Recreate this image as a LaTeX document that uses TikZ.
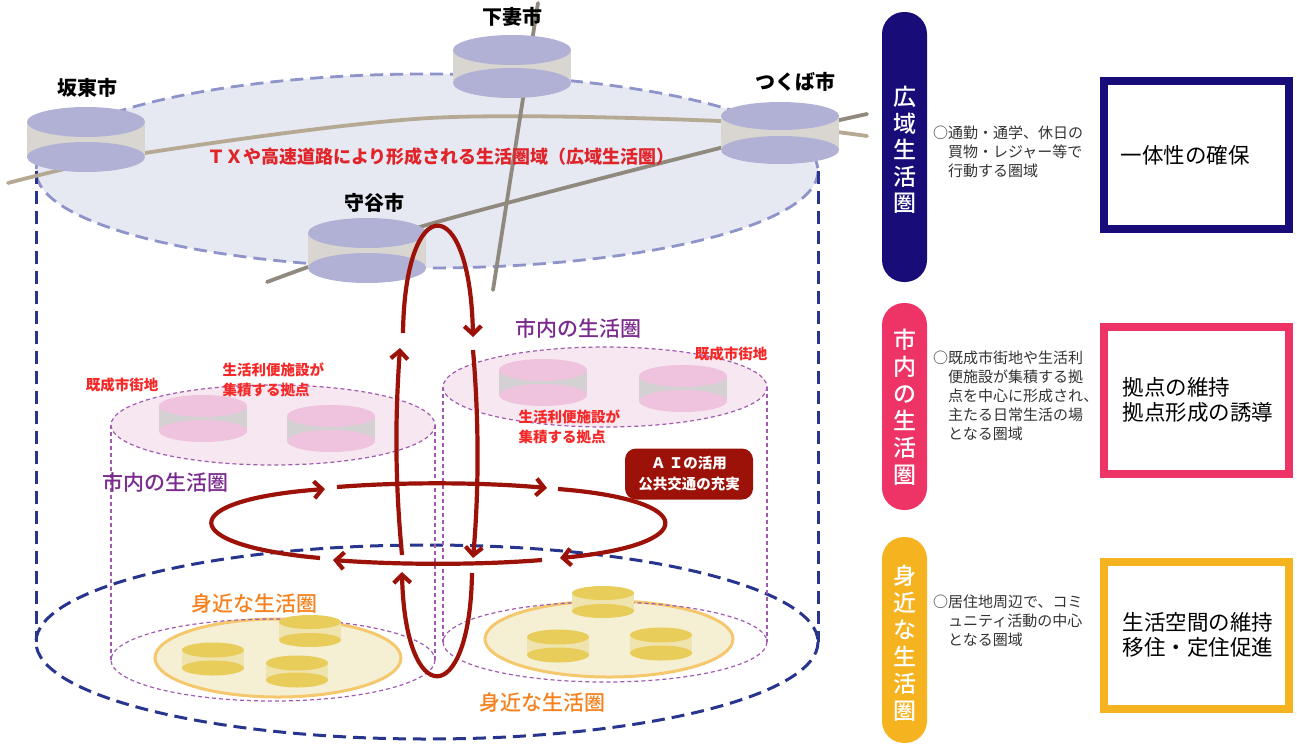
\documentclass[tikz,border=0pt]{standalone}
\usepackage{fontspec}
\setmainfont{Noto Sans CJK JP}
\newfontfamily\medfont{Noto Sans CJK JP Medium}
\usetikzlibrary{arrows.meta}
\definecolor{navy}{HTML}{28358F}
\definecolor{topdash}{HTML}{8E93C9}
\definecolor{topfill}{HTML}{E6E9F2}
\definecolor{cityface}{HTML}{B0B1D5}
\definecolor{cityside}{HTML}{D9D5D1}
\definecolor{roadtan}{HTML}{B5A993}
\definecolor{roadgray}{HTML}{8F897E}
\definecolor{pinkface}{HTML}{EFC2DE}
\definecolor{pinkside}{HTML}{D3D1D1}
\definecolor{pinkdisc}{HTML}{F6E7F0}
\definecolor{purpledash}{HTML}{A05AB0}
\definecolor{yellowface}{HTML}{E8CD5A}
\definecolor{yellowside}{HTML}{EFE4AE}
\definecolor{yellowdisc}{HTML}{F5F0D4}
\definecolor{yellowrim}{HTML}{F5C86E}
\definecolor{arrowred}{HTML}{9C1209}
\definecolor{labelred}{HTML}{F52828}
\definecolor{txred}{HTML}{E0242A}
\definecolor{purpletext}{HTML}{7B2B8E}
\definecolor{orangetext}{HTML}{F5821F}
\definecolor{pillA}{HTML}{180C78}
\definecolor{pillB}{HTML}{EE3366}
\definecolor{pillC}{HTML}{F5B320}
\definecolor{desctext}{HTML}{333333}
\newcommand{\mycyl}[7]{%
  \fill[#6] ({#1-#4},#2) rectangle ({#1+#4},#3);
  \fill[#7] (#1,#3) ellipse [x radius=#4, y radius=#5];
  \fill[#7] (#1,#2) ellipse [x radius=#4, y radius=#5];
}
\tikzset{
  navydash/.style={draw=navy, line width=3pt, dash pattern=on 13pt off 7pt},
  topdashed/.style={draw=topdash, line width=2.8pt, dash pattern=on 13pt off 7pt, fill=topfill},
  purpled/.style={draw=purpledash, line width=1.2pt, dash pattern=on 4pt off 3pt},
  roadA/.style={draw=roadtan, line width=3.8pt, line cap=round},
  roadB/.style={draw=roadgray, line width=3.8pt, line cap=round},
  citylabel/.style={font=\fontsize{20}{24}\selectfont\bfseries, text=black},
  redlabel/.style={font=\fontsize{14.5}{20}\selectfont\bfseries, text=labelred, align=left},
  purplelabel/.style={font=\fontsize{21}{24}\selectfont\medfont, text=purpletext},
  orangelabel/.style={font=\fontsize{21}{24}\selectfont\medfont, text=orangetext},
  arr/.style={draw=arrowred, line width=4.2pt, -{Straight Barb[length=8pt,width=17pt]}},
  desc/.style={font=\fontsize{15}{18.8}\selectfont, text=desctext, align=left, anchor=north west, inner sep=0pt},
  boxtext/.style={font=\fontsize{21.5}{25}\selectfont, text=black, align=left},
  pilltext/.style={font=\fontsize{23}{27}\selectfont\medfont, text=white, align=center},
}
\begin{document}
\begin{tikzpicture}[x=1pt,y=-1pt]
\useasboundingbox (0,0) rectangle (1297,744);

% ---- wide-area disc ----
\draw[topdashed] (427,171) ellipse [x radius=391, y radius=97];

% ---- outer navy cylinder ----
\draw[navydash] (36,171) -- (36,642);
\draw[navydash] (818,171) -- (818,642);
\draw[navydash] (427,642) ellipse [x radius=391, y radius=97];

% ---- roads ----
\draw[roadA] plot[smooth] coordinates {(8,183) (145,153) (430,118) (720,121) (867,136)};
\draw[roadB] plot[smooth] coordinates {(267,282) (308,267) (430,224) (720,148) (867,114)};
\draw[roadB] (538,3) -- (493,290);

% ---- city cylinders ----
\mycyl{86}{122}{157}{59}{15}{cityside}{cityface}
\mycyl{512}{50}{83}{59}{15}{cityside}{cityface}
\mycyl{780}{116}{150}{59}{14}{cityside}{cityface}
\mycyl{367}{233}{268}{59}{15}{cityside}{cityface}
\node[citylabel] (bando) at (87,88) {坂東市};
\node[citylabel] (shimotsuma) at (512,17) {下妻市};
\node[citylabel] (tsukuba) at (795,82) {つくば市};
\node[citylabel] (moriya) at (374,203) {守谷市};
\node[font=\fontsize{18}{22}\selectfont\bfseries, text=txred] (tx) at (441,157) {ＴＸや高速道路により形成される生活圏域（広域生活圏）};

% ---- neighbourhood discs (yellow) ----
\draw[draw=yellowrim, line width=3pt, fill=yellowdisc] (278,658) ellipse [x radius=123, y radius=39];
\draw[draw=yellowrim, line width=3pt, fill=yellowdisc] (609,639) ellipse [x radius=124, y radius=38];

% ---- city-internal cylinders (pink, dashed) ----
\draw[purpled] (111,425) -- (111,660);
\draw[purpled] (435,425) -- (435,660);
\draw[purpled] (273,660) ellipse [x radius=162, y radius=41];
\draw[purpled, fill=pinkdisc] (273,425) ellipse [x radius=162, y radius=40];
\draw[purpled] (443,387) -- (443,642);
\draw[purpled] (767,387) -- (767,642);
\draw[purpled] (605,642) ellipse [x radius=162, y radius=40];
\draw[purpled, fill=pinkdisc] (605,387) ellipse [x radius=162, y radius=40];

\mycyl{203}{406}{431}{44}{11}{pinkside}{pinkface}
\mycyl{331}{416}{441}{44}{11}{pinkside}{pinkface}
\mycyl{543}{370}{395}{44}{11}{pinkside}{pinkface}
\mycyl{683}{376}{401}{44}{11}{pinkside}{pinkface}

% ---- yellow cylinders ----
\mycyl{213}{650}{668}{31}{7.5}{yellowside}{yellowface}
\mycyl{310}{622}{640}{31}{7}{yellowside}{yellowface}
\mycyl{297}{663}{680}{31}{7.5}{yellowside}{yellowface}
\mycyl{603}{593}{611}{31}{7}{yellowside}{yellowface}
\mycyl{558}{637}{655}{31}{7.5}{yellowside}{yellowface}
\mycyl{661}{635}{653}{31}{7.5}{yellowside}{yellowface}

% ---- labels in the diagram ----
\node[redlabel] (kisei1) at (122,385) {既成市街地};
\node[redlabel, anchor=west] (benri1) at (219,380) {生活利便施設が\\集積する拠点};
\node[redlabel] (kisei2) at (731,354) {既成市街地};
\node[redlabel, anchor=west] (benri2) at (515,427) {生活利便施設が\\集積する拠点};
\node[purplelabel] (shinai1) at (165,482) {市内の生活圏};
\node[purplelabel] (shinai2) at (578,328) {市内の生活圏};
\node[orangelabel] (mijika1) at (254,603) {身近な生活圏};
\node[orangelabel] (mijika2) at (542,702) {身近な生活圏};

\node[fill=arrowred, rounded corners=11pt, minimum width=128pt, minimum height=51pt, inner sep=0pt,
      text=white, align=center, font=\fontsize{14.5}{21}\selectfont\bfseries] (ai) at (689,474) {Ａ Ｉの活用\\公共交通の充実};

% ---- vertical loop ----
\draw[arr] (403,333) .. controls (405,190) and (470,190) .. (473,337);
\draw[arr] (473,350) .. controls (479,420) and (479,490) .. (473,558);
\draw[arr] (472,573) .. controls (470,710) and (405,710) .. (402,572);
\draw[arr] (402,555) .. controls (395,480) and (395,420) .. (400,348);

% ---- horizontal loop ----
\draw[arr] (320,558) .. controls (175,545) and (175,500) .. (325,489);
\draw[arr] (337,487) .. controls (400,482) and (480,482) .. (547,488);
\draw[arr] (558,489) .. controls (700,500) and (700,545) .. (560,558);
\draw[arr] (542,560) .. controls (480,565) and (400,565) .. (333,560);

% ---- right panel ----
\fill[pillA, rounded corners=22pt] (882,12) rectangle (927,282);
\node[pilltext, font=\fontsize{23}{26.5}\selectfont\medfont] (pA) at (904.5,150) {広\\域\\生\\活\\圏};
\fill[pillB, rounded corners=22pt] (882,303) rectangle (927,510);
\node[pilltext] (pB) at (904.5,407) {市\\内\\の\\生\\活\\圏};
\fill[pillC, rounded corners=22pt] (882,537) rectangle (927,743);
\node[pilltext] (pC) at (904.5,643) {身\\近\\な\\生\\活\\圏};

\node[desc] (dA) at (933,126) {○通勤・通学、休日の\\　買物・レジャー等で\\　行動する圏域};
\node[desc] (dB) at (933,351) {○既成市街地や生活利\\　便施設が集積する拠\\　点を中心に形成され、\\　主たる日常生活の場\\　となる圏域};
\node[desc] (dC) at (933,595) {○居住地周辺で、コミ\\　ュニティ活動の中心\\　となる圏域};

\draw[draw=pillA, line width=8pt] (1104,81) rectangle (1289,229);
\node[boxtext] (bA) at (1185,155) {一体性の確保};
\draw[draw=pillB, line width=8pt] (1104,327) rectangle (1289,474);
\node[boxtext, anchor=west] (bB) at (1119,400) {拠点の維持\\拠点形成の誘導};
\draw[draw=pillC, line width=8pt] (1104,562) rectangle (1289,709);
\node[boxtext, anchor=west] (bC) at (1119,635) {生活空間の維持\\移住・定住促進};
\end{tikzpicture}
\end{document}
